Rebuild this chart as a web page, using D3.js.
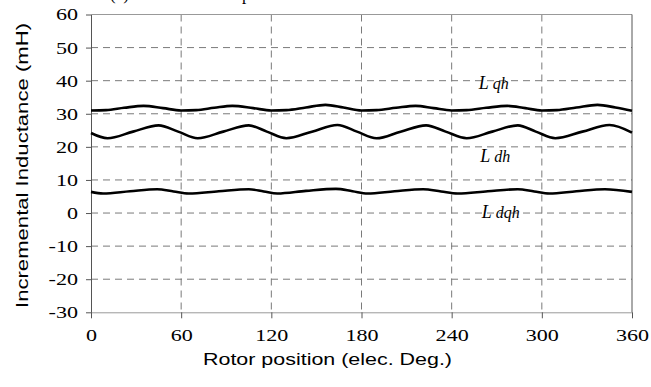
<!DOCTYPE html>
<html>
<head>
<meta charset="utf-8">
<script src="https://cdn.jsdelivr.net/npm/d3@7"></script>
<style>
body { margin: 0; background: #fff; }
.aText { font-family: "Liberation Sans", Arial, sans-serif; font-size: 17px; fill: #000; }
.curveLabel { font-family: "Liberation Serif", "Times New Roman", serif; font-style: italic; fill: #000; }
</style>
</head>
<body>
<div id="chart"></div>
<script>
// values: rotor position (elec. deg) -> inductance (mH)
var qhAngle = [0, 10, 22, 35, 48, 60, 70, 82, 94, 108, 120, 130, 143, 156, 168, 180, 190, 203, 216, 228, 240, 250, 263, 277, 289, 300, 310, 323, 337, 349, 360];
var qhValue = [31.0, 31.1, 31.8, 32.4, 31.7, 31.0, 31.1, 31.8, 32.4, 31.7, 31.0, 31.1, 31.9, 32.7, 31.9, 31.0, 31.1, 31.8, 32.4, 31.7, 31.0, 31.1, 31.8, 32.4, 31.7, 31.0, 31.1, 31.9, 32.7, 31.9, 30.9];

var dhAngle = [0, 11, 28, 45, 58, 71, 88, 105, 117, 130, 147, 164, 177, 190, 206, 223, 236, 250, 267, 284, 296, 309, 327, 345, 360];
var dhValue = [24.2, 22.6, 24.6, 26.5, 24.6, 22.6, 24.6, 26.5, 24.6, 22.6, 24.6, 26.6, 24.6, 22.6, 24.6, 26.5, 24.6, 22.6, 24.6, 26.5, 24.6, 22.6, 24.6, 26.6, 24.3];

var dqhAngle = [0, 8, 26, 44, 55, 65, 85, 105, 115, 124, 143, 163, 174, 184, 202, 221, 233, 244, 264, 284, 295, 305, 323, 342, 360];
var dqhValue = [6.4, 5.9, 6.6, 7.2, 6.5, 5.9, 6.6, 7.2, 6.5, 5.9, 6.7, 7.3, 6.6, 5.9, 6.6, 7.2, 6.5, 5.9, 6.6, 7.2, 6.5, 5.9, 6.6, 7.2, 6.4];

var xTicks = [0, 60, 120, 180, 240, 300, 360];
var yTicks = [-30, -20, -10, 0, 10, 20, 30, 40, 50, 60];

var seriesNames = ["qh", "dh", "dqh"];
var labelAngle = [258, 259, 260];
var labelValue = [37.4, 15.5, -1.4];

var svgWidth = 651;
var svgHeight = 387;

var margin = {
    top: 14.5,
    bottom: 74.7,
    left: 91,
    right: 19
};

var width = svgWidth - margin.left - margin.right;
var height = svgHeight - margin.top - margin.bottom;

// the source figure's lettering is a bit wide
var stretch = 1.3;

var svg = d3.select("#chart")
    .append("svg")
    .attr("width", svgWidth)
    .attr("height", svgHeight);

var chartGroup = svg.append("g")
    .attr("transform", `translate(${margin.left}, ${margin.top})`);

var xLinearScale = d3.scaleLinear()
    .domain([0, 360])
    .range([0, width]);

var yLinearScale = d3.scaleLinear()
    .domain([-30, 60])
    .range([height, 0]);

// dashed grid
chartGroup.selectAll(".hgrid")
    .data(yTicks.slice(1, -1))
    .enter()
    .append("line")
    .attr("x1", 0)
    .attr("x2", width)
    .attr("y1", d => yLinearScale(d))
    .attr("y2", d => yLinearScale(d))
    .attr("stroke", "#7a7a7a")
    .attr("stroke-width", 1)
    .attr("stroke-dasharray", "7,5");

chartGroup.selectAll(".vgrid")
    .data(xTicks.slice(1, -1))
    .enter()
    .append("line")
    .attr("x1", d => xLinearScale(d))
    .attr("x2", d => xLinearScale(d))
    .attr("y1", 0)
    .attr("y2", height)
    .attr("stroke", "#7a7a7a")
    .attr("stroke-width", 1)
    .attr("stroke-dasharray", "7,5");

// frame: top gray, right dark
chartGroup.append("line")
    .attr("x1", 0).attr("x2", width)
    .attr("y1", yLinearScale(60)).attr("y2", yLinearScale(60))
    .attr("stroke", "#999");

chartGroup.append("line")
    .attr("x1", xLinearScale(360)).attr("x2", xLinearScale(360))
    .attr("y1", 0).attr("y2", height)
    .attr("stroke", "#555");

// axes
var xAxis = d3.axisBottom(xLinearScale)
    .tickValues(xTicks)
    .tickSize(6)
    .tickSizeOuter(0)
    .tickPadding(11)
    .tickFormat(d => String(d));

var yAxis = d3.axisLeft(yLinearScale)
    .tickValues(yTicks)
    .tickSize(5)
    .tickSizeOuter(0)
    .tickPadding(8)
    .tickFormat(d => String(d));

var xg = chartGroup.append("g")
    .attr("transform", `translate(0, ${height})`)
    .call(xAxis);
xg.select(".domain").attr("stroke", "#999");

var yg = chartGroup.append("g")
    .call(yAxis);
yg.select(".domain").attr("stroke", "#555");

[xg, yg].forEach(g => {
    g.attr("font-family", "Liberation Serif, Times New Roman, serif")
        .attr("font-size", 17);
    g.selectAll(".tick line").attr("stroke", "#555");
    g.selectAll(".tick text")
        .attr("fill", "#000")
        .attr("font-family", "Liberation Serif")
        .attr("font-size", "17px")
        .attr("transform", `scale(${stretch}, 1)`);
});
yg.selectAll(".tick text").attr("x", -13 / stretch);

// curves
var allSeries = [
    d3.zip(qhAngle, qhValue),
    d3.zip(dhAngle, dhValue),
    d3.zip(dqhAngle, dqhValue)
];

var line = d3.line()
    .x(d => xLinearScale(d[0]))
    .y(d => yLinearScale(d[1]))
    .curve(d3.curveMonotoneX);

chartGroup.selectAll(".curve")
    .data(allSeries)
    .enter()
    .append("path")
    .attr("d", line)
    .attr("fill", "none")
    .attr("stroke", "#000")
    .attr("stroke-width", 2.6)
    .attr("stroke-linejoin", "round");

// curve labels
var labels = chartGroup.selectAll(".curveLabel")
    .data(seriesNames)
    .enter()
    .append("text")
    .classed("curveLabel", true)
    .attr("x", (d, i) => xLinearScale(labelAngle[i]))
    .attr("y", (d, i) => yLinearScale(labelValue[i]))
    .attr("font-size", "18px")
    .text("L");
labels.append("tspan")
    .attr("font-size", "16px")
    .text(d => " " + d);

// axis titles
svg.append("text")
    .classed("aText", true)
    .attr("transform", "translate(28, 165.5) rotate(-90)")
    .attr("text-anchor", "middle")
    .attr("textLength", 285)
    .attr("lengthAdjust", "spacingAndGlyphs")
    .text("Incremental Inductance (mH)");

svg.append("text")
    .classed("aText", true)
    .attr("x", 327.5)
    .attr("y", 365)
    .attr("text-anchor", "middle")
    .attr("textLength", 249)
    .attr("lengthAdjust", "spacingAndGlyphs")
    .text("Rotor position (elec. Deg.)");

// caption cut off at the top edge, as in the source figure
svg.append("text")
    .attr("x", 110)
    .attr("y", 0)
    .attr("font-family", "Liberation Serif, serif")
    .attr("font-size", "17px")
    .text("(a)");

svg.append("text")
    .attr("x", 164)
    .attr("y", 0)
    .attr("font-family", "Liberation Serif, serif")
    .attr("font-size", "17px")
    .text("inductance profiles");
</script>
</body>
</html>
